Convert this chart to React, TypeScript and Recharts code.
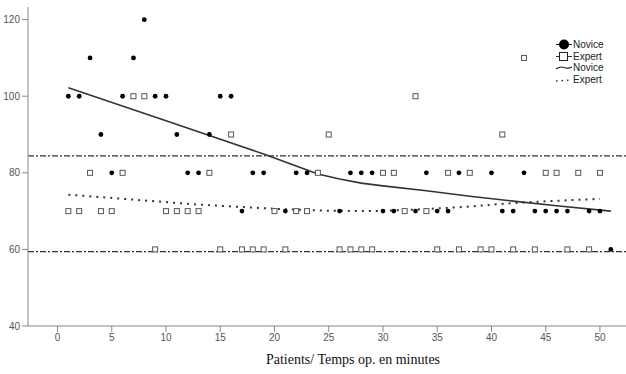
import React from 'react';
import {
  ScatterChart,
  Scatter,
  XAxis,
  YAxis,
  ReferenceLine,
  Legend,
} from 'recharts';

// Novice surgeons: patient index and operating time (minutes)
const novicePatients = [
  1, 2, 3, 4, 5, 6, 7, 8, 9, 10, 11, 12, 13, 14, 15, 16, 17, 18, 19,
  21, 22, 23, 26, 27, 28, 29, 30, 31, 33, 34, 35, 36, 37,
  40, 41, 42, 43, 44, 45, 46, 47, 49, 50, 51,
];
const noviceMinutes = [
  100, 100, 110, 90, 80, 100, 110, 120, 100, 100, 90, 80, 80, 90, 100, 100, 70, 80, 80,
  70, 80, 80, 70, 80, 80, 80, 70, 70, 70, 80, 70, 70, 80,
  80, 70, 70, 80, 70, 70, 70, 70, 70, 70, 60,
];

// Expert surgeons: patients 1..50
const expertMinutes = [
  70, 70, 80, 70, 70, 80, 100, 100, 60, 70,
  70, 70, 70, 80, 60, 90, 60, 60, 60, 70,
  60, 70, 70, 80, 90, 60, 60, 60, 60, 80,
  80, 70, 100, 70, 60, 80, 60, 80, 60, 60,
  90, 60, 110, 60, 80, 80, 60, 80, 60, 80,
];

// fitted curves
const noviceFitX = [1, 10, 19, 22, 24, 26, 28, 30, 34, 38, 42, 46, 51];
const noviceFitY = [102.2, 93.6, 84.9, 81.8, 79.7, 78.4, 77.3, 76.6, 75.3, 73.9, 72.6, 71.4, 70.0];
const expertFitX = [1, 7, 13, 20, 25, 29, 33, 37, 42, 46, 50];
const expertFitY = [74.3, 73.0, 71.7, 70.6, 70.1, 70.0, 70.4, 71.0, 72.1, 72.7, 73.2];

const refLines = [84.4, 59.4];
const xTicks = [0, 5, 10, 15, 20, 25, 30, 35, 40, 45, 50];
const yTicks = [40, 60, 80, 100, 120];

const noviceData = novicePatients.map((p, i) => ({ x: p, y: noviceMinutes[i] }));
const expertData = expertMinutes.map((m, i) => ({ x: i + 1, y: m }));
const noviceFit = noviceFitX.map((x, i) => ({ x, y: noviceFitY[i] }));
const expertFit = expertFitX.map((x, i) => ({ x, y: expertFitY[i] }));

const tickStyle = { fontFamily: 'Liberation Sans, Arial, sans-serif', fontSize: 10, fill: '#555' };

const NoviceDot = (props: any) => {
  const { cx, cy } = props;
  return <circle cx={cx} cy={cy} r={2.4} fill="#000" />;
};

const ExpertSquare = (props: any) => {
  const { cx, cy } = props;
  return <rect x={cx - 2.5} y={cy - 2.5} width={5} height={5} fill="#fff" stroke="#555" strokeWidth={1} />;
};

const NoShape = () => <g />;

const LegendBox = () => {
  const row = { display: 'flex', alignItems: 'center', height: 11.5 } as React.CSSProperties;
  const txt = { fontFamily: 'Liberation Sans, Arial, sans-serif', fontSize: 10, color: '#222', marginLeft: 0 };
  return (
    <div>
      <div style={row}>
        <svg width={18} height={11}>
          <line x1={1} y1={5.5} x2={17} y2={5.5} stroke="#000" strokeWidth={1} />
          <circle cx={9} cy={5.5} r={5} fill="#000" />
        </svg>
        <span style={txt}>Novice</span>
      </div>
      <div style={row}>
        <svg width={18} height={11}>
          <line x1={1} y1={5.5} x2={17} y2={5.5} stroke="#333" strokeWidth={1} />
          <rect x={4.5} y={1.5} width={8} height={8} fill="#fff" stroke="#222" strokeWidth={1} />
        </svg>
        <span style={txt}>Expert</span>
      </div>
      <div style={row}>
        <svg width={18} height={11}>
          <path d="M1 7 Q5 4 9 5.5 T17 5" fill="none" stroke="#222" strokeWidth={1.2} />
        </svg>
        <span style={txt}>Novice</span>
      </div>
      <div style={row}>
        <svg width={18} height={11}>
          <line x1={1} y1={7} x2={17} y2={6} stroke="#333" strokeWidth={1.5} strokeDasharray="1.5 4" />
        </svg>
        <span style={txt}>Expert</span>
      </div>
    </div>
  );
};

export default function App() {
  return (
    <div style={{ position: 'absolute', left: 0, top: 0, width: 626, height: 374, background: '#fff' }}>
      <ScatterChart width={626} height={374} margin={{ top: 7, right: 0, bottom: 0, left: 0 }}>
        <XAxis
          type="number"
          dataKey="x"
          domain={[-2.72, 52.4]}
          ticks={xTicks}
          allowDataOverflow
          height={48}
          tick={tickStyle}
          tickLine={{ stroke: '#888' }}
          axisLine={{ stroke: '#888' }}
          label={{
            value: 'Patients/ Temps op. en minutes',
            position: 'insideBottom',
            offset: 10,
            dx: 26,
            style: { fontFamily: 'Liberation Serif, Times New Roman, serif', fontSize: 14, fill: '#111' },
          }}
        />
        <YAxis
          type="number"
          dataKey="y"
          domain={[40, 123.3]}
          ticks={yTicks}
          allowDataOverflow
          width={28}
          tick={tickStyle}
          tickLine={{ stroke: '#888' }}
          axisLine={{ stroke: '#888' }}
        />
        {refLines.map((v) => (
          <ReferenceLine key={v} y={v} stroke="#333" strokeWidth={1.2} strokeDasharray="6 2 2 2" />
        ))}
        <Scatter
          name="Novice fit"
          data={noviceFit}
          line={{ stroke: '#333', strokeWidth: 1.6 }}
          lineType="joint"
          shape={NoShape}
          isAnimationActive={false}
        />
        <Scatter
          name="Expert fit"
          data={expertFit}
          line={{ stroke: '#333', strokeWidth: 2, strokeDasharray: '2 5' }}
          lineType="joint"
          shape={NoShape}
          isAnimationActive={false}
        />
        <Scatter name="Expert" data={expertData} shape={ExpertSquare} isAnimationActive={false} />
        <Scatter name="Novice" data={noviceData} shape={NoviceDot} isAnimationActive={false} />
        <Legend
          layout="horizontal"
          verticalAlign="middle"
          align="center"
          content={() => <LegendBox />}
          wrapperStyle={{ left: 555, top: 39, width: 71 }}
        />
      </ScatterChart>
    </div>
  );
}
